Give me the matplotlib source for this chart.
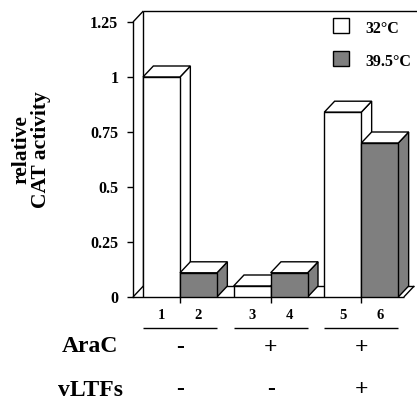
import matplotlib
matplotlib.use('Agg')
import matplotlib.pyplot as plt
from matplotlib.patches import Polygon, Rectangle

plt.rcParams['font.family'] = ['Liberation Serif', 'DejaVu Serif']
plt.rcParams['font.weight'] = 'bold'

# data
lanes = ['1', '2', '3', '4', '5', '6']
conditions = ['32°C', '39.5°C']
activity_32 = [1.0, 0.05, 0.84]
activity_395 = [0.11, 0.11, 0.70]
arac = ['-', '+', '+']
vltfs = ['-', '-', '+']
yticks = [0, 0.25, 0.5, 0.75, 1, 1.25]
ytick_labels = ['0', '0.25', '0.5', '0.75', '1', '1.25']

WHITE = 'white'
GREY = '#7f7f7f'
w = 1.0            # bar width
dx, dy = 0.28, 0.05  # depth offset of the 3d look
step = 2.45        # distance between groups
x0 = -1.27         # front axis position
ytop = 1.3


def box(ax, x, h, color):
    side = Polygon([(x + w, 0), (x + w + dx, dy), (x + w + dx, h + dy), (x + w, h)],
                   fc=color, ec='black', lw=1, zorder=3)
    top = Polygon([(x, h), (x + w, h), (x + w + dx, h + dy), (x + dx, h + dy)],
                  fc='white', ec='black', lw=1, zorder=3)
    front = Rectangle((x, 0), w, h, fc=color, ec='black', lw=1, zorder=3)
    for p in (side, top, front):
        ax.add_patch(p)


fig = plt.figure(figsize=(4.17, 4.01), dpi=100)
ax = fig.add_axes([133 / 417, 104 / 401, 284 / 417, 286 / 401])
xmax = x0 + 284 / 37
ax.set_xlim(x0, xmax)
ax.set_ylim(0, ytop)

centers = [i * step for i in range(len(activity_32))]
floor_end = centers[-1] + 1.15
kw = dict(color='black', lw=1, clip_on=False, solid_capstyle='butt', zorder=1)

# walls and floor
ax.plot([x0, x0 + dx], [1.25, ytop], **kw)
ax.plot([x0 + dx, x0 + dx], [dy, ytop], **kw)
ax.plot([x0 + dx, xmax], [ytop, ytop], **kw)
ax.plot([x0, floor_end], [0, 0], **kw)
ax.plot([x0, x0 + dx], [0, dy], **kw)
ax.plot([x0 + dx, floor_end + dx], [dy, dy], **kw)
ax.plot([floor_end, floor_end + dx], [0, dy], **kw)

# bars
for c, a, b in zip(centers, activity_32, activity_395):
    box(ax, c - w, a, WHITE)
    box(ax, c, b, GREY)

# axes styling
for s in ('top', 'right', 'bottom'):
    ax.spines[s].set_visible(False)
ax.spines['left'].set_bounds(0, 1.25)
ax.spines['left'].set_linewidth(1)
ax.set_yticks(yticks)
ax.set_yticklabels(ytick_labels, fontsize=11.5, fontweight='bold')
ax.tick_params(axis='y', direction='out', length=4.5, width=1, pad=6)
ax.set_xticks(centers)
ax.set_xticklabels([])
ax.tick_params(axis='x', direction='out', length=4, width=1)
ax.patch.set_alpha(0)

# lane numbers and group lines
for i, lab in enumerate(lanes):
    c = centers[i // 2]
    ax.text(c - w + (i % 2) * w + w / 2, -0.1, lab, ha='center', va='baseline',
            fontsize=10.5, clip_on=False)
for c in centers:
    ax.plot([c - w, c + w], [-0.141, -0.141], **kw)

# treatment rows
ax.text(-2.43, -0.25, 'AraC', ha='center', va='baseline', fontsize=17)
ax.text(-2.43, -0.452, 'vLTFs', ha='center', va='baseline', fontsize=17)
for c, a, v in zip(centers, arac, vltfs):
    ax.text(c, -0.255, a, ha='center', va='baseline', fontsize=17)
    ax.text(c, -0.447, v, ha='center', va='baseline', fontsize=17)

# legend
for yy, col, lab in zip([1.2, 1.05], [WHITE, GREY], conditions):
    ax.add_patch(Rectangle((4.135, yy), 0.43, 0.068, fc=col, ec='black', lw=1, clip_on=False))
    ax.text(5.0, yy, lab, ha='left', va='baseline', fontsize=11.5)

fig.text(31 / 417, (401 - 150) / 401, 'relative\nCAT activity', rotation=90,
         ha='center', va='center', multialignment='center', fontsize=15.5,
         linespacing=1.0)

fig.savefig('out.png', dpi=100)
